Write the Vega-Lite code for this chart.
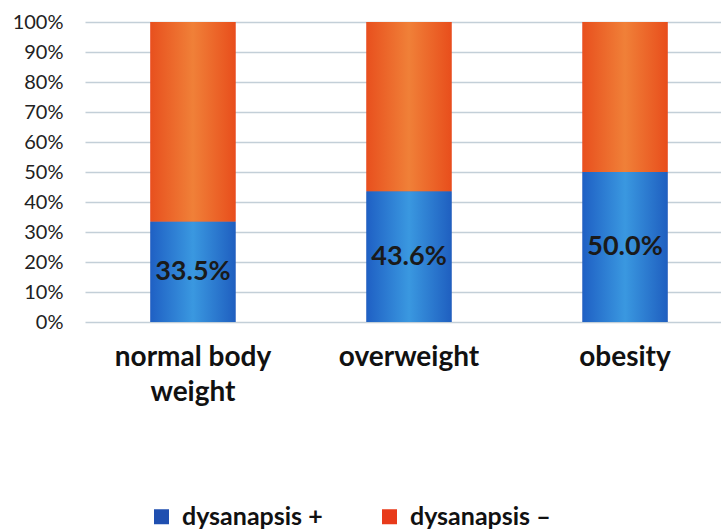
{
  "$schema": "https://vega.github.io/schema/vega-lite/v6.json",
  "autosize": "none",
  "width": 648,
  "height": 300,
  "padding": {"left": 85, "top": 22, "right": -12, "bottom": 209},
  "background": "white",
  "config": {
    "font": "Lato",
    "view": {"stroke": null},
    "axisY": {
      "title": null,
      "values": [0, 10, 20, 30, 40, 50, 60, 70, 80, 90, 100],
      "tickCount": 10,
      "labelExpr": "datum.value + '%'",
      "labelOverlap": false,
      "labelFont": "Lato",
      "labelFontSize": 20,
      "labelColor": "#222222",
      "labelPadding": 22,
      "domain": false,
      "ticks": false,
      "gridColor": "#c3cfd8",
      "gridWidth": 1.5
    }
  },
  "data": {
    "values": [
      {"category": "normal body weight", "series": "dysanapsis +", "value": 33.5},
      {"category": "normal body weight", "series": "dysanapsis –", "value": 66.5},
      {"category": "overweight", "series": "dysanapsis +", "value": 43.6},
      {"category": "overweight", "series": "dysanapsis –", "value": 56.4},
      {"category": "obesity", "series": "dysanapsis +", "value": 50.0},
      {"category": "obesity", "series": "dysanapsis –", "value": 50.0}
    ]
  },
  "transform": [
    {"stack": "value", "groupby": ["category"], "sort": [{"field": "series", "order": "ascending"}], "as": ["y0", "y1"]},
    {"calculate": "(datum.y0 + datum.y1) / 2", "as": "mid"},
    {"calculate": "format(datum.value, '.1f') + '%'", "as": "label"}
  ],
  "encoding": {
    "x": {
      "field": "category",
      "type": "nominal",
      "sort": ["normal body weight", "overweight", "obesity"],
      "scale": {"paddingInner": 0.6065, "paddingOuter": 0.303},
      "axis": {
        "title": null,
        "labelAngle": 0,
        "labelFont": "Lato",
        "labelFontWeight": "bold",
        "labelFontSize": 28,
        "labelColor": "#111111",
        "labelPadding": 21,
        "labelLineHeight": 35,
        "labelBaseline": "top",
        "labelExpr": "datum.value == 'normal body weight' ? ['normal body', 'weight'] : datum.value",
        "domain": false,
        "ticks": false,
        "grid": false
      }
    }
  },
  "layer": [
    {
      "mark": {"type": "bar"},
      "encoding": {
        "y": {
          "field": "y0",
          "type": "quantitative",
          "scale": {"domain": [0, 100]}
        },
        "y2": {"field": "y1"},
        "color": {
          "field": "series",
          "type": "nominal",
          "scale": {"domain": ["dysanapsis +", "dysanapsis –"], "range": ["#1f4fb0", "#e83a1a"]},
          "legend": {
            "title": null,
            "orient": "none",
            "direction": "horizontal",
            "legendX": 64,
            "legendY": 482,
            "symbolType": "square",
            "symbolSize": 225,
            "symbolStrokeWidth": 0,
            "labelFont": "Lato",
            "labelFontWeight": "bold",
            "labelFontSize": 25,
            "labelColor": "#111111",
            "columnPadding": 54,
            "labelOffset": 8
          }
        }
      }
    },
    {
      "transform": [{"filter": "datum.series == 'dysanapsis +'"}],
      "mark": {
        "type": "bar",
        "fill": {
          "gradient": "linear", "x1": 0, "y1": 0, "x2": 1, "y2": 0,
          "stops": [
            {"offset": 0, "color": "#1f60c4"},
            {"offset": 0.5, "color": "#3a98e0"},
            {"offset": 1, "color": "#1f5fc0"}
          ]
        }
      },
      "encoding": {
        "y": {"field": "y0", "type": "quantitative"},
        "y2": {"field": "y1"}
      }
    },
    {
      "transform": [{"filter": "datum.series == 'dysanapsis –'"}],
      "mark": {
        "type": "bar",
        "fill": {
          "gradient": "linear", "x1": 0, "y1": 0, "x2": 1, "y2": 0,
          "stops": [
            {"offset": 0, "color": "#e8501e"},
            {"offset": 0.5, "color": "#f08038"},
            {"offset": 1, "color": "#e84e1c"}
          ]
        }
      },
      "encoding": {
        "y": {"field": "y0", "type": "quantitative"},
        "y2": {"field": "y1"}
      }
    },
    {
      "transform": [{"filter": "datum.series == 'dysanapsis +'"}],
      "mark": {"type": "text", "font": "Lato", "fontWeight": "bold", "fontSize": 27, "color": "#1a1a1a", "baseline": "middle", "align": "center"},
      "encoding": {
        "y": {"field": "mid", "type": "quantitative"},
        "text": {"field": "label", "type": "nominal"}
      }
    }
  ]
}
